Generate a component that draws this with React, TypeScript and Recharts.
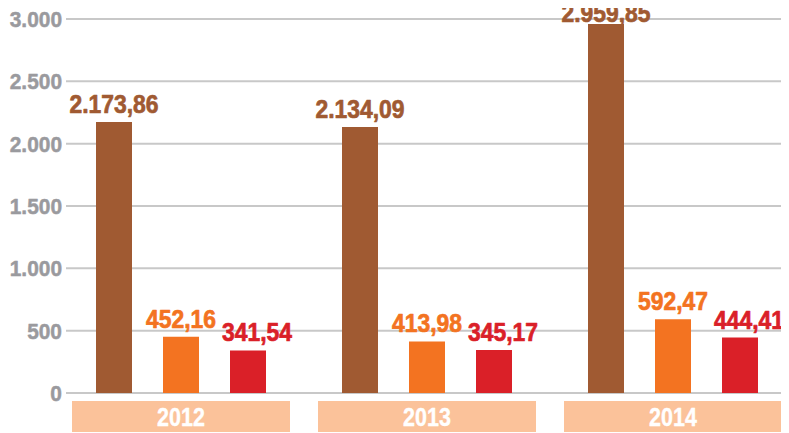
import React from "react";
import { BarChart, Bar, XAxis, YAxis, CartesianGrid, LabelList } from "recharts";

const years = ["2012", "2013", "2014"];
const brownValues = [2173.86, 2134.09, 2959.85];
const orangeValues = [452.16, 413.98, 592.47];
const redValues = [341.54, 345.17, 444.41];
const yTicks = [0, 500, 1000, 1500, 2000, 2500, 3000];
const unitNote = "Valores em Milhões R$";

const data = years.map((y, i) => ({
  year: y,
  brown: brownValues[i],
  orange: orangeValues[i],
  red: redValues[i],
}));

const FONT = "'Liberation Sans', Arial, sans-serif";

const groupThousands = (s: string) => s.replace(/\B(?=(\d{3})+(?!\d))/g, ".");
const fmtTick = (v: number) => groupThousands(String(Math.round(v)));
const fmtValue = (v: number) => {
  const [i, d] = v.toFixed(2).split(".");
  return groupThousands(i) + "," + d;
};

type CTProps = {
  x: number;
  y: number;
  sx: number;
  anchor: "start" | "middle" | "end";
  size: number;
  color: string;
  weight?: string;
  stroke?: number;
  children: React.ReactNode;
};

const CondensedText = ({ x, y, sx, anchor, size, color, weight = "bold", stroke = 0, children }: CTProps) => (
  <g transform={`translate(${x},${y}) scale(${sx},1)`}>
    <text
      x={0}
      y={0}
      textAnchor={anchor}
      fill={color}
      stroke={stroke > 0 ? color : "none"}
      strokeWidth={stroke}
      strokeLinejoin="round"
      fontFamily={FONT}
      fontWeight={weight}
      fontSize={size}
    >
      {children}
    </text>
  </g>
);

const YearTick = (props: any) => {
  const { x, y, payload } = props;
  return (
    <g>
      <rect x={x - 109} y={y + 8} width={218} height={31} fill="#FBC29A" />
      <CondensedText x={x} y={y + 33} sx={0.86} anchor="middle" size={25} color="#FFFFFF" stroke={0.4}>
        {payload.value}
      </CondensedText>
    </g>
  );
};

const ValueTick = (props: any) => {
  const { x, y, payload } = props;
  return (
    <CondensedText x={x + 2} y={y + 8} sx={0.95} anchor="end" size={22} color="#9A9A9E" stroke={0.5}>
      {fmtTick(payload.value)}
    </CondensedText>
  );
};

const makeLabel = (color: string, dx: number) => (props: any) => {
  const { x, y, width, value } = props;
  return (
    <CondensedText
      x={x + width / 2 + dx}
      y={Math.max(y - 9, 14)}
      sx={0.88}
      anchor="middle"
      size={26}
      color={color}
      stroke={0.7}
    >
      {fmtValue(Number(value))}
    </CondensedText>
  );
};

const BrownLabel = makeLabel("#A05A32", 0);
const OrangeLabel = makeLabel("#F37321", 0);
const RedLabel = makeLabel("#DA2028", 9);

export default function App() {
  return (
    <div style={{ position: "relative", width: 781, height: 425 }}>
      <svg
        style={{ position: "absolute", left: -8, top: -8, overflow: "visible" }}
        width={789}
        height={20}
      >
        <CondensedText x={782} y={5} sx={0.85} anchor="end" size={19} color="#231F20" weight="normal">
          {unitNote}
        </CondensedText>
      </svg>
      <BarChart
        width={781}
        height={425}
        data={data}
        margin={{ top: 11, right: 8, bottom: 0, left: 0 }}
        barSize={36}
        barGap={31}
      >
        <CartesianGrid vertical={false} stroke="#C8C8C8" strokeWidth={2} />
        <XAxis
          dataKey="year"
          height={40}
          axisLine={false}
          tickLine={false}
          tickSize={0}
          tickMargin={0}
          padding={{ left: -8, right: -15 }}
          tick={<YearTick />}
          interval={0}
        />
        <YAxis
          width={58}
          domain={[0, 3000]}
          ticks={yTicks}
          axisLine={false}
          tickLine={false}
          tickSize={0}
          tickMargin={6}
          interval={0}
          tick={<ValueTick />}
        />
        <Bar dataKey="brown" fill="#A05A32" isAnimationActive={false}>
          <LabelList dataKey="brown" content={<BrownLabel />} />
        </Bar>
        <Bar dataKey="orange" fill="#F37321" isAnimationActive={false}>
          <LabelList dataKey="orange" content={<OrangeLabel />} />
        </Bar>
        <Bar dataKey="red" fill="#DA2028" isAnimationActive={false}>
          <LabelList dataKey="red" content={<RedLabel />} />
        </Bar>
      </BarChart>
    </div>
  );
}
